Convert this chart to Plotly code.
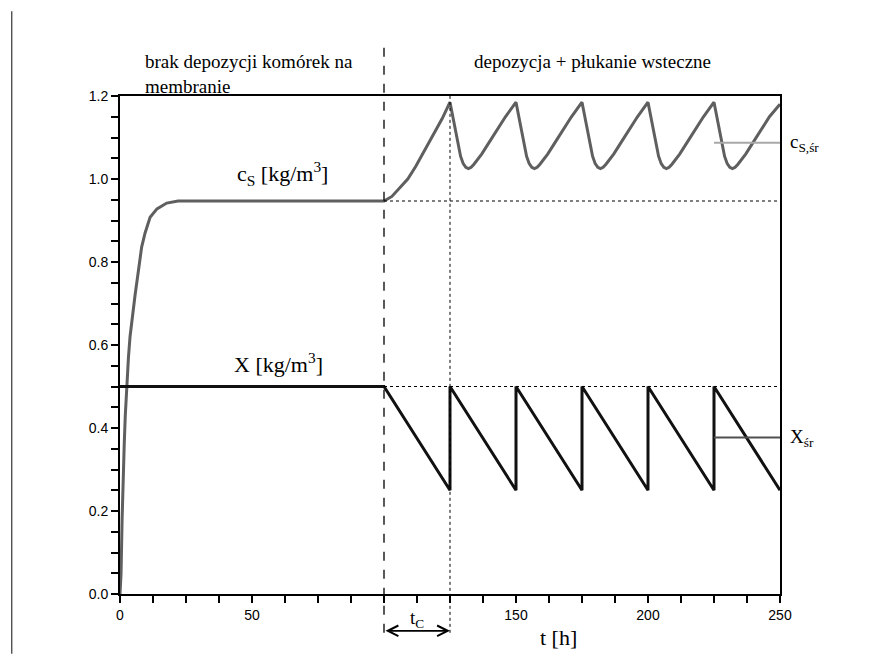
import plotly.graph_objects as go

# ---- data ----
cs_t = [0, 0.4, 0.8, 1.1, 1.6, 2.0, 2.5, 3.2, 3.8, 4.7, 5.7, 7.0, 8.2, 9.5, 11.4, 14, 17.7, 22, 100,
        103, 106, 109, 112, 115.5, 119, 122, 125,
        126, 127, 128, 129, 130, 131, 132, 133, 134, 135, 137, 140, 143, 146, 150,
        151, 152, 153, 154, 155, 156, 157, 158, 159, 160, 162, 165, 168, 171, 175,
        176, 177, 178, 179, 180, 181, 182, 183, 184, 185, 187, 190, 193, 196, 200,
        201, 202, 203, 204, 205, 206, 207, 208, 209, 210, 212, 215, 218, 221, 225,
        226, 227, 228, 229, 230, 231, 232, 233, 234, 235, 237, 240, 243, 246, 250]
cs_v = [0, 0.05, 0.18, 0.27, 0.36, 0.43, 0.50, 0.57, 0.62, 0.67, 0.72, 0.78, 0.836, 0.87, 0.908, 0.928, 0.942, 0.947, 0.947,
        0.958, 0.978, 1.0, 1.03, 1.07, 1.11, 1.145, 1.185,
        1.15, 1.118, 1.085, 1.055, 1.037, 1.028, 1.025, 1.028, 1.035, 1.043, 1.06, 1.09, 1.12, 1.15, 1.185,
        1.15, 1.118, 1.085, 1.055, 1.037, 1.028, 1.025, 1.028, 1.035, 1.043, 1.06, 1.09, 1.12, 1.15, 1.185,
        1.15, 1.118, 1.085, 1.055, 1.037, 1.028, 1.025, 1.028, 1.035, 1.043, 1.06, 1.09, 1.12, 1.15, 1.185,
        1.15, 1.118, 1.085, 1.055, 1.037, 1.028, 1.025, 1.028, 1.035, 1.043, 1.06, 1.09, 1.12, 1.15, 1.185,
        1.15, 1.118, 1.085, 1.055, 1.037, 1.028, 1.025, 1.028, 1.035, 1.043, 1.06, 1.09, 1.12, 1.15, 1.18]

x_t = [0, 100, 125, 125, 150, 150, 175, 175, 200, 200, 225, 225, 250]
x_v = [0.5, 0.5, 0.25, 0.5, 0.25, 0.5, 0.25, 0.5, 0.25, 0.5, 0.25, 0.5, 0.25]

cs_base = 0.947
x_base = 0.5
cs_mean = 1.0875
x_mean = 0.377
t_switch = 100
t_cycle_end = 125
t_mean_start = 225
t_end = 250

x_tickvals = [i * 12.5 for i in range(21)]
x_ticklabels = {0: "0", 50: "50", 150: "150", 200: "200", 250: "250"}
y_tickvals = [round(i * 0.05, 2) for i in range(25)]
y_ticklabels = {0.0: "0.0", 0.2: "0.2", 0.4: "0.4", 0.6: "0.6", 0.8: "0.8", 1.0: "1.0", 1.2: "1.2"}

SERIF = "Liberation Serif, Times New Roman, serif"
SANS = "Liberation Sans, Arial, sans-serif"

fig = go.Figure()
fig.add_trace(go.Scatter(x=cs_t, y=cs_v, mode="lines", line=dict(color="#5f5f5f", width=3), showlegend=False))
fig.add_trace(go.Scatter(x=x_t, y=x_v, mode="lines", line=dict(color="#111111", width=3), showlegend=False))

shapes = [
    dict(type="line", xref="x", yref="y", x0=t_switch, x1=t_end, y0=cs_base, y1=cs_base,
         line=dict(color="black", width=1, dash="dot")),
    dict(type="line", xref="x", yref="y", x0=t_switch, x1=t_end, y0=x_base, y1=x_base,
         line=dict(color="black", width=1, dash="dot")),
    dict(type="line", xref="x", yref="paper", x0=t_switch, x1=t_switch, y0=-0.078, y1=1.112,
         line=dict(color="black", width=1.3, dash="dash")),
    dict(type="line", xref="x", yref="paper", x0=t_cycle_end, x1=t_cycle_end, y0=-0.078, y1=1.0,
         line=dict(color="black", width=1, dash="dot")),
    dict(type="line", xref="x", yref="y", x0=t_mean_start, x1=t_end, y0=cs_mean, y1=cs_mean,
         line=dict(color="#a8a8a8", width=2)),
    dict(type="line", xref="x", yref="y", x0=t_mean_start, x1=t_end, y0=x_mean, y1=x_mean,
         line=dict(color="#505050", width=2)),
    dict(type="line", xref="paper", yref="paper", x0=-0.164, x1=-0.164, y0=-0.12, y1=1.17,
         line=dict(color="#333333", width=1.2)),
]

annotations = [
    dict(x=8.7, y=1.044, xref="x", yref="paper", xanchor="left", yanchor="middle", align="left",
         text="brak depozycji komórek na<br>membranie", showarrow=False,
         font=dict(family=SERIF, size=19, color="black")),
    dict(x=178.8, y=1.070, xref="x", yref="paper", xanchor="center", yanchor="middle",
         text="depozycja + płukanie wsteczne", showarrow=False,
         font=dict(family=SERIF, size=19, color="black")),
    dict(x=61.4, y=1.014, xref="x", yref="y", xanchor="center", yanchor="middle",
         text="c<sub>S</sub> [kg/m<sup>3</sup>]", showarrow=False,
         font=dict(family=SERIF, size=22, color="black")),
    dict(x=60.2, y=0.557, xref="x", yref="y", xanchor="center", yanchor="middle",
         text="X [kg/m<sup>3</sup>]", showarrow=False,
         font=dict(family=SERIF, size=22, color="black")),
    dict(x=t_end, y=cs_mean, xref="x", yref="y", xanchor="left", yanchor="middle", xshift=8,
         text="c<sub>S,śr</sub>", showarrow=False,
         font=dict(family=SERIF, size=19, color="black")),
    dict(x=t_end, y=x_mean, xref="x", yref="y", xanchor="left", yanchor="middle", xshift=8,
         text="X<sub>śr</sub>", showarrow=False,
         font=dict(family=SERIF, size=19, color="black")),
    dict(x=112.5, y=-0.050, xref="x", yref="paper", xanchor="center", yanchor="middle",
         text="t<sub>C</sub>", showarrow=False,
         font=dict(family=SERIF, size=19, color="black")),
    dict(x=166, y=-0.088, xref="x", yref="paper", xanchor="center", yanchor="middle",
         text="t [h]", showarrow=False,
         font=dict(family=SERIF, size=22, color="black")),
    dict(x=t_cycle_end, y=-0.074, xref="x", yref="paper", axref="x", ax=t_switch, ayref="pixel", ay=0,
         text="", showarrow=True, arrowhead=5, startarrowhead=5, arrowside="end+start",
         arrowsize=1.3, startarrowsize=1.3, arrowwidth=1.6, arrowcolor="black"),
]

fig.update_layout(
    width=875, height=668,
    margin=dict(l=112, r=103, t=88, b=82),
    paper_bgcolor="white", plot_bgcolor="white",
    shapes=shapes, annotations=annotations,
    showlegend=False,
    xaxis=dict(range=[0, 250], showgrid=False, zeroline=False,
               showline=True, linecolor="black", linewidth=2, mirror=True,
               ticks="outside", ticklen=7, tickwidth=1.5, tickcolor="black",
               tickmode="array", tickvals=x_tickvals,
               ticktext=[x_ticklabels.get(v, "") for v in x_tickvals],
               tickfont=dict(family=SANS, size=14, color="black")),
    yaxis=dict(range=[0, 1.2], showgrid=False, zeroline=False,
               showline=True, linecolor="black", linewidth=2, mirror=True,
               ticks="outside", ticklen=7, tickwidth=1.5, tickcolor="black",
               tickmode="array", tickvals=y_tickvals,
               ticktext=[y_ticklabels.get(v, "") for v in y_tickvals],
               tickfont=dict(family=SANS, size=14, color="black")),
)

fig.write_html("out.html")
